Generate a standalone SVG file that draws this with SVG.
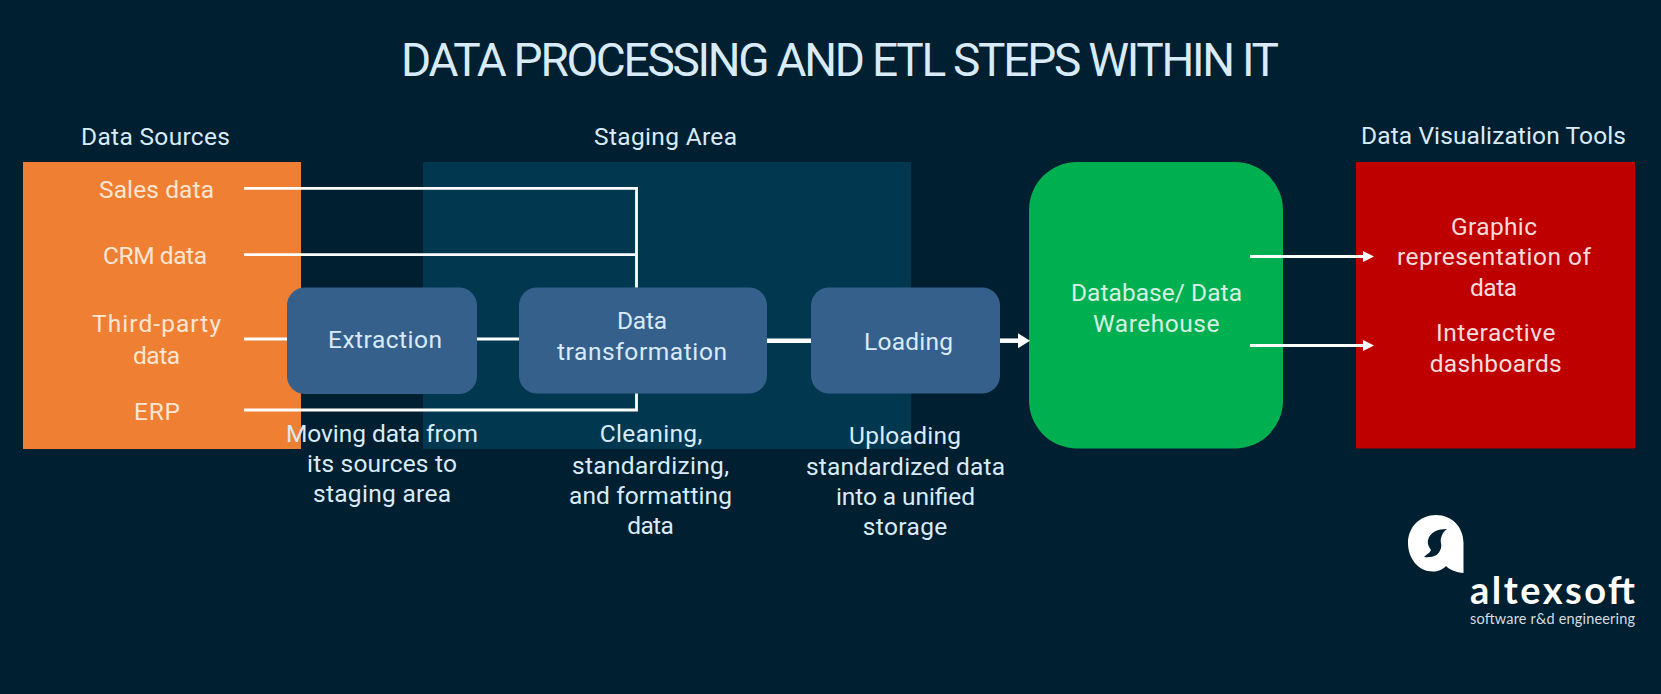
<svg xmlns="http://www.w3.org/2000/svg" width="1661" height="694" viewBox="0 0 1661 694">
<style>
text{font-family:"Roboto","Liberation Sans",sans-serif;font-size:24.5px;font-weight:450;fill:#d9ebf8;text-anchor:middle}
.title{font-size:46px;font-weight:400}
.on{fill:#fde6d4}
.ong{fill:#d6f1e2}
.onr{fill:#fadcdc}
.box{fill:#35608c}
.c{fill:none;stroke:#fff;stroke-width:2.8}
.brand{font-family:"Lato",sans-serif;font-weight:700;font-size:38px;fill:#fff;text-anchor:start}
.tag{font-family:"Lato",sans-serif;font-weight:400;font-size:14.500px;fill:#d4dde3;text-anchor:start}
</style>
<defs>
<marker id="ah" markerUnits="userSpaceOnUse" markerWidth="12" markerHeight="16" refX="0" refY="8" orient="auto"><path d="M0 0.500L12 8L0 15.500z" fill="#fff"/></marker>
<marker id="at" markerUnits="userSpaceOnUse" markerWidth="11" markerHeight="12" refX="0" refY="6" orient="auto"><path d="M0 0.500L11 6L0 11.500z" fill="#fff"/></marker>
</defs>
<rect width="1661" height="694" fill="#001f30"/>
<text class="title" x="840" y="75.500" textLength="878" lengthAdjust="spacing">DATA PROCESSING AND ETL STEPS WITHIN IT</text>
<g id="sources"><rect x="23" y="162" width="278" height="287" fill="#ef7f33"/>
<text x="155.500" y="144.500" textLength="149" lengthAdjust="spacing">Data Sources</text>
<text class="on" x="156.500" y="198" textLength="115" lengthAdjust="spacing">Sales data</text>
<text class="on" x="155" y="264" textLength="104" lengthAdjust="spacing">CRM data</text>
<text class="on" x="156.500" y="332" textLength="129" lengthAdjust="spacing">Third-party</text>
<text class="on" x="156.500" y="363.500" textLength="47" lengthAdjust="spacing">data</text>
<text class="on" x="157" y="419.500" textLength="46" lengthAdjust="spacing">ERP</text></g>
<g id="staging"><rect x="423" y="162" width="488" height="287" fill="#01384f"/>
<text x="665.500" y="144.500" textLength="143" lengthAdjust="spacing">Staging Area</text></g>
<g id="extraction"><rect class="box" x="287" y="287.500" width="190" height="106.500" rx="18"/>
<text x="385" y="348" textLength="114" lengthAdjust="spacing">Extraction</text>
<text x="382" y="441.500" textLength="192" lengthAdjust="spacing">Moving data from</text>
<text x="382" y="472" textLength="150" lengthAdjust="spacing">its sources to</text>
<text x="382" y="502" textLength="138" lengthAdjust="spacing">staging area</text></g>
<g id="transformation"><rect class="box" x="519" y="287.500" width="248" height="106" rx="18"/>
<text x="642" y="328.500" textLength="50" lengthAdjust="spacing">Data</text>
<text x="642" y="360" textLength="170" lengthAdjust="spacing">transformation</text>
<text x="651" y="442" textLength="102.500" lengthAdjust="spacing">Cleaning,</text>
<text x="650.500" y="473.500" textLength="157" lengthAdjust="spacing">standardizing,</text>
<text x="650.500" y="503.500" textLength="163" lengthAdjust="spacing">and formatting</text>
<text x="650.500" y="534" textLength="46.500" lengthAdjust="spacing">data</text></g>
<g id="loading"><rect class="box" x="811" y="287.500" width="189" height="106" rx="18"/>
<text x="908.500" y="349.500" textLength="89" lengthAdjust="spacing">Loading</text>
<text x="905" y="443.500" textLength="112" lengthAdjust="spacing">Uploading</text>
<text x="905.500" y="474.500" textLength="199" lengthAdjust="spacing">standardized data</text>
<text x="905.500" y="504.500" textLength="139" lengthAdjust="spacing">into a unified</text>
<text x="905" y="534.500" textLength="84.500" lengthAdjust="spacing">storage</text></g>
<g id="warehouse"><rect x="1029" y="162" width="254" height="286.500" rx="48" fill="#00b050"/>
<text class="ong" x="1156.500" y="301" textLength="171" lengthAdjust="spacing">Database/ Data</text>
<text class="ong" x="1156.200" y="331.500" textLength="126.500" lengthAdjust="spacing">Warehouse</text></g>
<g id="viz"><rect x="1356" y="162" width="279" height="286.500" fill="#bf0000"/>
<text x="1493.500" y="144" textLength="265" lengthAdjust="spacing">Data Visualization Tools</text>
<text class="onr" x="1494" y="235" textLength="86" lengthAdjust="spacing">Graphic</text>
<text class="onr" x="1494" y="265" textLength="194" lengthAdjust="spacing">representation of</text>
<text class="onr" x="1493.500" y="296" textLength="47" lengthAdjust="spacing">data</text>
<text class="onr" x="1495.800" y="341" textLength="119.600" lengthAdjust="spacing">Interactive</text>
<text class="onr" x="1495.700" y="372" textLength="132" lengthAdjust="spacing">dashboards</text></g>
<g id="connectors">
<path class="c" d="M244 188.300H636.500V287.500M244 254.700H636.500M244 339H287M477 339H519M244 410H636.500V393.500"/>
<path d="M767 340.700H811" fill="none" stroke="#fff" stroke-width="4.500"/>
<path d="M1000 340.700H1018" fill="none" stroke="#fff" stroke-width="4.500" marker-end="url(#ah)"/>
<path class="c" d="M1250 256.500H1363" marker-end="url(#at)"/>
<path class="c" d="M1250 345.500H1363" marker-end="url(#at)"/>
</g>
<g id="logo">
<path fill="#fff" fill-rule="evenodd" d="M1436 515C1452 515 1463.500 527 1463.500 543V573C1456 572.500 1450 570 1446 566C1442 570 1438 571.500 1433 571.500C1418 571.500 1408 558 1408 543C1408 527 1420 515 1436 515ZM1447 529C1438 529 1430 532 1428 540C1427 545 1430 548 1431 550C1430 553 1427 554 1424 557C1432 558 1439 556 1441 548C1442 544 1440 542 1441 538C1442 534 1444 531 1447 529Z"/>
<text class="brand" x="1470" y="603.500" textLength="165" lengthAdjust="spacing">altexsoft</text>
<text class="tag" x="1470" y="624" textLength="165" lengthAdjust="spacing">software r&amp;d engineering</text>
</g>
</svg>
